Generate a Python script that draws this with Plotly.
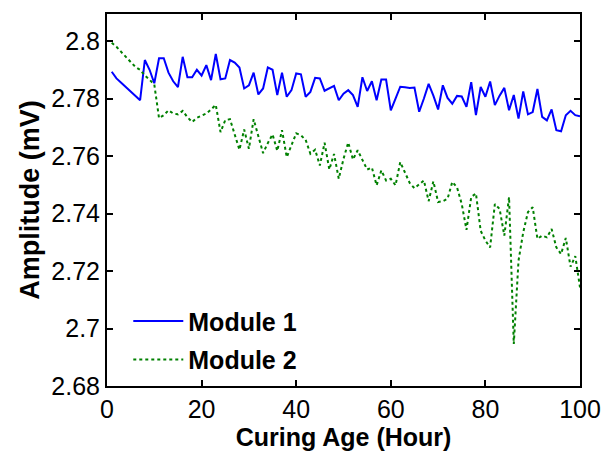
import plotly.graph_objects as go

hours = list(range(1, 101))

module1 = [
    2.7893, 2.7870, 2.7855, 2.7840, 2.7825, 2.7810, 2.7794, 2.7934, 2.7900, 2.7853,
    2.7940, 2.7940, 2.7890, 2.7860, 2.7840, 2.7945, 2.7874, 2.7874, 2.7900, 2.7880,
    2.7916, 2.7864, 2.7955, 2.7867, 2.7870, 2.7934, 2.7925, 2.7908, 2.7835, 2.7846,
    2.7890, 2.7814, 2.7835, 2.7908, 2.7900, 2.7812, 2.7890, 2.7806, 2.7829, 2.7887,
    2.7884, 2.7806, 2.7823, 2.7872, 2.7870, 2.7827, 2.7835, 2.7844, 2.7794, 2.7817,
    2.7829, 2.7812, 2.7771, 2.7874, 2.7826, 2.7860, 2.7794, 2.7866, 2.7866, 2.7759,
    2.7800, 2.7841, 2.7839, 2.7837, 2.7838, 2.7754, 2.7800, 2.7851, 2.7810, 2.7762,
    2.7846, 2.7802, 2.7782, 2.7809, 2.7807, 2.7771, 2.7857, 2.7742, 2.7840, 2.7806,
    2.7859, 2.7777, 2.7810, 2.7837, 2.7759, 2.7812, 2.7730, 2.7825, 2.7745, 2.7753,
    2.7833, 2.7736, 2.7724, 2.7762, 2.7690, 2.7686, 2.7742, 2.7757, 2.7742, 2.7738,
]

module2 = [
    2.7994, 2.7980, 2.7962, 2.7945, 2.7928, 2.7910, 2.7900, 2.7880, 2.7865, 2.7849,
    2.7732, 2.7742, 2.7759, 2.7748, 2.7745, 2.7757, 2.7735, 2.7718, 2.7733, 2.7740,
    2.7748, 2.7762, 2.7778, 2.7683, 2.7725, 2.7728, 2.7675, 2.7622, 2.7692, 2.7625,
    2.7728, 2.7668, 2.7610, 2.7645, 2.7675, 2.7618, 2.7690, 2.7596, 2.7638, 2.7679,
    2.7672, 2.7656, 2.7608, 2.7622, 2.7567, 2.7646, 2.7553, 2.7607, 2.7521, 2.7590,
    2.7647, 2.7588, 2.7620, 2.7585, 2.7553, 2.7560, 2.7498, 2.7550, 2.7515, 2.7521,
    2.7498, 2.7579, 2.7544, 2.7506, 2.7488, 2.7500, 2.7515, 2.7443, 2.7512, 2.7440,
    2.7443, 2.7451, 2.7510, 2.7491, 2.7433, 2.7343, 2.7457, 2.7470, 2.7340, 2.7306,
    2.7282, 2.7433, 2.7416, 2.7323, 2.7457, 2.6946, 2.7236, 2.7335, 2.7405, 2.7422,
    2.7312, 2.7323, 2.7317, 2.7346, 2.7282, 2.7259, 2.7315, 2.7215, 2.7252, 2.7143,
]

x_ticks = [0, 20, 40, 60, 80, 100]
y_ticks = [2.68, 2.70, 2.72, 2.74, 2.76, 2.78, 2.80]
y_tick_labels = ["2.68", "2.7", "2.72", "2.74", "2.76", "2.78", "2.8"]

FONT = "Liberation Sans, Arial, sans-serif"

fig = go.Figure()
fig.add_trace(go.Scatter(x=hours, y=module1, mode="lines", name="<b>Module 1</b>",
                         legendgroup="m1",
                         line=dict(color="rgb(0,0,255)", width=2)))
fig.add_trace(go.Scatter(x=hours, y=module2, mode="lines", name="<b>Module 2</b>",
                         legendgroup="m2",
                         line=dict(color="rgb(0,128,0)", width=2, dash="dot")))

axis_common = dict(
    showline=True, linecolor="black", linewidth=2, mirror="ticks",
    ticks="inside", ticklen=6, tickwidth=1.5, tickcolor="black",
    showgrid=False, zeroline=False, automargin=False,
    tickfont=dict(family=FONT, size=25, color="black"),
)

fig.update_layout(
    width=603, height=452,
    margin=dict(l=107, r=23, t=14, b=66),
    paper_bgcolor="white", plot_bgcolor="white",
    font=dict(family=FONT, color="black"),
    xaxis=dict(range=[0, 100], tickvals=x_ticks,
               title=dict(text="<b>Curing Age (Hour)</b>", font=dict(family=FONT, size=25), standoff=2),
               **axis_common),
    yaxis=dict(range=[2.68, 2.8094], tickvals=y_ticks, ticktext=y_tick_labels,
               title=dict(text="<b>Amplitude (mV)</b>", font=dict(family=FONT, size=27), standoff=4),
               **axis_common),
    showlegend=True,
    legend=dict(x=0.045, y=0.01, xanchor="left", yanchor="bottom",
                bgcolor="rgba(0,0,0,0)", borderwidth=0,
                font=dict(family=FONT, size=25, color="black"),
                itemwidth=50, traceorder="grouped", tracegroupgap=3),
)

fig.write_html("out.html")
